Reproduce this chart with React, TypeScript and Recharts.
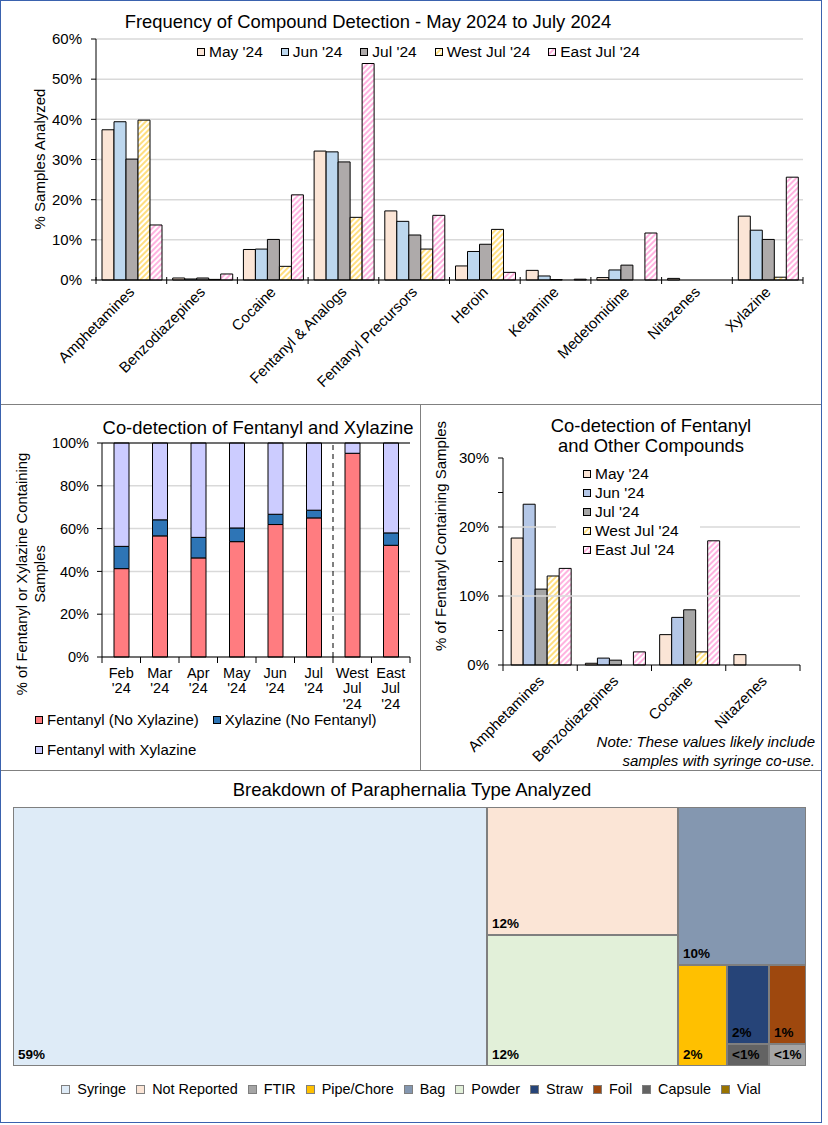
import { BarChart, Bar, XAxis, YAxis, CartesianGrid, ReferenceLine, ReferenceArea, Treemap } from "recharts"

const FONT = "Arial, 'Liberation Sans', Helvetica, sans-serif"

// Frequency of compound detection, % of samples analyzed
const compounds = [
  "Amphetamines",
  "Benzodiazepines",
  "Cocaine",
  "Fentanyl & Analogs",
  "Fentanyl Precursors",
  "Heroin",
  "Ketamine",
  "Medetomidine",
  "Nitazenes",
  "Xylazine",
]
const may24 = [37.4, 0.5, 7.6, 32.1, 17.2, 3.5, 2.4, 0.6, 0.4, 15.9]
const jun24 = [39.4, 0.25, 7.7, 31.9, 14.6, 7.1, 1.0, 2.5, 0, 12.4]
const jul24 = [30.1, 0.5, 10.1, 29.4, 11.2, 8.9, 0.1, 3.7, 0, 10.1]
const westJul24 = [39.8, 0.15, 3.4, 15.6, 7.7, 12.6, 0, 0, 0, 0.7]
const eastJul24 = [13.7, 1.5, 21.2, 53.9, 16.1, 1.9, 0.2, 11.7, 0, 25.6]
const frequencyTicks = [0, 10, 20, 30, 40, 50, 60]

// Co-detection of fentanyl and xylazine, % of fentanyl or xylazine containing samples
const codetectPeriods = ["Feb '24", "Mar '24", "Apr '24", "May '24", "Jun '24", "Jul '24", "West Jul '24", "East Jul '24"]
const fentanylNoXylazine = [41.3, 56.6, 46.3, 53.9, 61.9, 65.0, 95.2, 52.2]
const xylazineNoFentanyl = [10.4, 7.5, 9.6, 6.4, 4.8, 3.6, 0, 5.8]
const fentanylWithXylazine = [48.3, 35.9, 44.1, 39.7, 33.3, 31.4, 4.8, 42.0]
const codetectTicks = [0, 20, 40, 60, 80, 100]

// Co-detection of fentanyl and other compounds, % of fentanyl containing samples
const otherCompounds = ["Amphetamines", "Benzodiazepines", "Cocaine", "Nitazenes"]
const withFentanylMay = [18.4, 0.25, 4.4, 1.5]
const withFentanylJun = [23.3, 1.0, 6.9, 0]
const withFentanylJul = [11.0, 0.7, 8.0, 0]
const withFentanylWest = [12.9, 0, 1.9, 0]
const withFentanylEast = [14.0, 1.9, 18.0, 0]
const otherTicks = [0, 5, 10, 15, 20, 25, 30]

// Paraphernalia type share, %
const paraTypes = ["Syringe", "Not Reported", "FTIR", "Pipe/Chore", "Bag", "Powder", "Straw", "Foil", "Capsule", "Vial"]
const paraShares = [59.4, 11.9, 0.4, 2.4, 9.8, 12.1, 1.6, 1.4, 0.45, 0]

const periodKeys = ["may", "jun", "jul", "west", "east"]
const periodNames = ["May '24", "Jun '24", "Jul '24", "West Jul '24", "East Jul '24"]
const periodFills = ["#FBE5D6", "#BDD7EE", "#AEAAAA", "url(#hatchWest)", "url(#hatchEast)"]
const otherFills = ["#FBE5D6", "#B4C7E7", "#A6A6A6", "url(#hatchWest)", "url(#hatchEast)"]

const codetectKeys = ["fentOnly", "xylOnly", "both"]
const codetectNames = ["Fentanyl (No Xylazine)", "Xylazine (No Fentanyl)", "Fentanyl with Xylazine"]
const codetectFills = ["#FF7C80", "#2E75B6", "#CCCCFF"]

const paraColors: Record<string, string> = {
  Syringe: "#DEEBF7",
  "Not Reported": "#FBE5D6",
  FTIR: "#A5A5A5",
  "Pipe/Chore": "#FFC000",
  Bag: "#8497B0",
  Powder: "#E2F0D9",
  Straw: "#264478",
  Foil: "#9E480E",
  Capsule: "#636363",
  Vial: "#997300",
}

const frequencyRows = compounds.map((compound, i) => ({
  compound,
  may: may24[i],
  jun: jun24[i],
  jul: jul24[i],
  west: westJul24[i],
  east: eastJul24[i],
}))

const codetectRows = codetectPeriods.map((period, i) => ({
  period,
  fentOnly: fentanylNoXylazine[i],
  xylOnly: xylazineNoFentanyl[i],
  both: fentanylWithXylazine[i],
}))

const otherRows = otherCompounds.map((compound, i) => ({
  compound,
  may: withFentanylMay[i],
  jun: withFentanylJun[i],
  jul: withFentanylJul[i],
  west: withFentanylWest[i],
  east: withFentanylEast[i],
}))

// nesting only steers the squarify layout to the Excel arrangement
const share = (name: string) => ({ name, size: paraShares[paraTypes.indexOf(name)] })
const paraTree = [
  share("Syringe"),
  { name: "mid", children: [share("Not Reported"), share("Powder")] },
  {
    name: "right",
    children: [
      share("Bag"),
      {
        name: "small",
        children: [
          share("Pipe/Chore"),
          {
            name: "tiny",
            children: [share("Straw"), share("Foil"), { name: "tinyBottom", children: [share("Capsule"), share("FTIR")] }],
          },
        ],
      },
    ],
  },
]

const pct = (v: number) => `${v}%`
const shareLabel = (v: number) => (v < 1 ? "<1%" : `${Math.round(v)}%`)

function PatternDefs() {
  return (
    <svg width={0} height={0} style={{ position: "absolute" }}>
      <defs>
        <pattern id="hatchWest" width={4} height={4} patternUnits="userSpaceOnUse" patternTransform="rotate(45)">
          <rect width={4} height={4} fill="#fff" />
          <rect width={2} height={4} fill="#FFDF80" />
        </pattern>
        <pattern id="hatchEast" width={4} height={4} patternUnits="userSpaceOnUse" patternTransform="rotate(45)">
          <rect width={4} height={4} fill="#fff" />
          <rect width={2} height={4} fill="#FFB3E0" />
        </pattern>
      </defs>
    </svg>
  )
}

function LegendItem({
  fill,
  label,
  size = 8,
  border = "#000",
  space = 4,
}: {
  fill: string
  label: string
  size?: number
  border?: string
  space?: number
}) {
  return (
    <div style={{ display: "flex", alignItems: "center", whiteSpace: "nowrap" }}>
      <svg width={size} height={size} style={{ marginRight: space, flex: "none" }}>
        <rect x={0.5} y={0.5} width={size - 1} height={size - 1} fill={fill} stroke={border} strokeWidth={1} />
      </svg>
      <span>{label}</span>
    </div>
  )
}

function Caption({ cx, cy, lines, size = 18, lineHeight = 20, rotate = false }: any) {
  return (
    <div
      style={{
        position: "absolute",
        left: cx,
        top: cy,
        transform: `translate(-50%, -50%)${rotate ? " rotate(-90deg)" : ""}`,
        whiteSpace: "nowrap",
        textAlign: "center",
        fontSize: size,
        lineHeight: `${lineHeight}px`,
      }}
    >
      {lines.map((l: string) => (
        <div key={l}>{l}</div>
      ))}
    </div>
  )
}

// slanted category label plus Excel style tick marks on the category edges
function slantTick(half: number, size: number, tickTop: number, tickBottom: number, dx: number, dy: number) {
  return (props: any) => {
    const { x, y, payload, index, visibleTicksCount } = props
    const h = payload.offset || half
    return (
      <g>
        <line x1={x - h} x2={x - h} y1={y - tickTop} y2={y + tickBottom} stroke="#000" />
        {index === visibleTicksCount - 1 && <line x1={x + h} x2={x + h} y1={y - tickTop} y2={y + tickBottom} stroke="#000" />}
        <text
          x={x + dx}
          y={y + dy}
          transform={`rotate(-45 ${x + dx} ${y + dy})`}
          textAnchor="end"
          fontSize={size}
          fontFamily={FONT}
          fill="#000"
        >
          {payload.value}
        </text>
      </g>
    )
  }
}

function stackedTick(half: number) {
  return (props: any) => {
    const { x, y, payload, index, visibleTicksCount } = props
    const h = payload.offset || half
    const lines = String(payload.value).split(" ")
    return (
      <g>
        <line x1={x - h} x2={x - h} y1={y} y2={y + 6} stroke="#000" />
        {index === visibleTicksCount - 1 && <line x1={x + h} x2={x + h} y1={y} y2={y + 6} stroke="#000" />}
        <text textAnchor="middle" fontSize={14.5} fontFamily={FONT} fill="#000">
          {lines.map((l, i) => (
            <tspan key={i} x={x} y={y + 20.5 + i * 15.8}>
              {l}
            </tspan>
          ))}
        </text>
      </g>
    )
  }
}

function CompoundFrequencyChart() {
  return (
    <div style={{ position: "absolute", left: 0, top: 0 }}>
      <BarChart
        width={822}
        height={400}
        data={frequencyRows}
        margin={{ top: 39, right: 19, bottom: 0, left: 40 }}
        barCategoryGap="8.5%"
        barGap={0}
      >
        <CartesianGrid vertical={false} stroke="#D9D9D9" strokeWidth={1.5} />
        <XAxis
          dataKey="compound"
          interval={0}
          height={120}
          tickLine={false}
          tickSize={0}
          tickMargin={0}
          axisLine={{ stroke: "#000" }}
          tick={slantTick(35.35, 15, 3, 4, 4, 13)}
        />
        <YAxis
          width={56}
          domain={[0, 60]}
          ticks={frequencyTicks}
          tickFormatter={pct}
          tickSize={5}
          tickMargin={9}
          axisLine={{ stroke: "#000" }}
          tickLine={{ stroke: "#000" }}
          tick={{ fontSize: 15, fill: "#000", fontFamily: FONT }}
        />
        {periodKeys.map((k, i) => (
          <Bar key={k} dataKey={k} name={periodNames[i]} fill={periodFills[i]} stroke="#000" strokeWidth={1} isAnimationActive={false} />
        ))}
        <ReferenceArea fill="none" stroke="#000" strokeWidth={1} fillOpacity={0} />
      </BarChart>
      <Caption cx={368} cy={22} lines={["Frequency of Compound Detection - May 2024 to July 2024"]} size={18.4} />
      <Caption cx={40} cy={159} lines={["% Samples Analyzed"]} size={15} rotate />
      <div style={{ position: "absolute", left: 197, top: 43, display: "flex", gap: 18, fontSize: 15.5, lineHeight: "18px" }}>
        {periodKeys.map((k, i) => (
          <LegendItem key={k} fill={periodFills[i]} label={periodNames[i]} />
        ))}
      </div>
    </div>
  )
}

function FentanylXylazineChart() {
  return (
    <div style={{ position: "absolute", left: 0, top: 405 }}>
      <BarChart
        width={420}
        height={365}
        data={codetectRows}
        margin={{ top: 38, right: 10, bottom: 53, left: 48 }}
        barSize={15}
      >
        <CartesianGrid vertical={false} stroke="#D9D9D9" strokeWidth={1.5} />
        <XAxis
          dataKey="period"
          interval={0}
          height={60}
          tickLine={false}
          tickSize={0}
          tickMargin={0}
          axisLine={{ stroke: "#000" }}
          tick={stackedTick(19.25)}
        />
        <YAxis
          width={54}
          domain={[0, 100]}
          ticks={codetectTicks}
          tickFormatter={pct}
          tickSize={5}
          tickMargin={8}
          axisLine={{ stroke: "#000" }}
          tickLine={{ stroke: "#000" }}
          tick={{ fontSize: 14.5, fill: "#000", fontFamily: FONT }}
        />
        {codetectKeys.map((k, i) => (
          <Bar key={k} dataKey={k} name={codetectNames[i]} stackId="a" fill={codetectFills[i]} stroke="#000" strokeWidth={1} isAnimationActive={false} />
        ))}
        <ReferenceLine y={100} stroke="#000" strokeWidth={1} />
        <ReferenceLine x="West Jul '24" position="start" stroke="#000" strokeWidth={1} strokeDasharray="5 4" />
      </BarChart>
      <Caption cx={258} cy={23} lines={["Co-detection of Fentanyl and Xylazine"]} size={18.4} />
      <Caption cx={31} cy={169} lines={["% of Fentanyl or Xylazine Containing", "Samples"]} size={14.8} lineHeight={18} rotate />
      <div style={{ position: "absolute", left: 35, top: 308, fontSize: 15, lineHeight: "14px" }}>
        <div style={{ display: "flex", gap: 14 }}>
          <LegendItem fill={codetectFills[0]} label={codetectNames[0]} />
          <LegendItem fill={codetectFills[1]} label={codetectNames[1]} />
        </div>
        <div style={{ display: "flex", marginTop: 15.5 }}>
          <LegendItem fill={codetectFills[2]} label={codetectNames[2]} />
        </div>
      </div>
    </div>
  )
}

function FentanylOtherChart() {
  return (
    <div style={{ position: "absolute", left: 421, top: 405 }}>
      <BarChart
        width={401}
        height={365}
        data={otherRows}
        margin={{ top: 53, right: 22, bottom: 0, left: 36 }}
        barCategoryGap="11%"
        barGap={0}
      >
        <ReferenceLine y={10} stroke="#D9D9D9" strokeWidth={1.5} />
        <ReferenceLine y={20} stroke="#D9D9D9" strokeWidth={1.5} />
        <XAxis
          dataKey="compound"
          interval={0}
          height={105}
          tickLine={false}
          tickSize={0}
          tickMargin={0}
          axisLine={{ stroke: "#000" }}
          tick={slantTick(37.1, 15, 0, 6, 5, 17)}
        />
        <YAxis
          width={46}
          domain={[0, 30]}
          ticks={otherTicks}
          tickFormatter={(v: number) => (v % 10 === 0 ? pct(v) : "")}
          tickSize={5}
          tickMargin={9}
          axisLine={{ stroke: "#000" }}
          tickLine={{ stroke: "#000" }}
          tick={{ fontSize: 15, fill: "#000", fontFamily: FONT }}
        />
        {periodKeys.map((k, i) => (
          <Bar key={k} dataKey={k} name={periodNames[i]} fill={otherFills[i]} stroke="#000" strokeWidth={1} isAnimationActive={false} />
        ))}
        <ReferenceArea fill="none" stroke="#000" strokeWidth={1} fillOpacity={0} />
      </BarChart>
      <Caption cx={230} cy={31} lines={["Co-detection of Fentanyl", "and Other Compounds"]} size={18.4} lineHeight={20} />
      <Caption cx={20} cy={131} lines={["% of Fentanyl Containing Samples"]} size={15} rotate />
      <div
        style={{
          position: "absolute",
          left: 135,
          top: 57,
          width: 144,
          padding: "2px 0 2px 27px",
          boxSizing: "border-box",
          background: "#fff",
          fontSize: 15.5,
          lineHeight: "19px",
        }}
      >
        {periodKeys.map((k, i) => (
          <LegendItem key={k} fill={otherFills[i]} label={periodNames[i]} />
        ))}
      </div>
      <div
        style={{
          position: "absolute",
          right: 401 - 394,
          top: 327,
          textAlign: "right",
          fontStyle: "italic",
          fontSize: 15,
          lineHeight: "19px",
          whiteSpace: "nowrap",
        }}
      >
        <div>Note: These values likely include</div>
        <div>samples with syringe co-use.</div>
      </div>
    </div>
  )
}

function renderParaCell(props: any) {
  const { x, y, width, height, name, value } = props
  const color = paraColors[name]
  if (!color || !width || !height) return <g />
  return (
    <g>
      <rect x={x + 0.5} y={y + 0.5} width={width - 1} height={height - 1} fill={color} stroke="#7F7F7F" strokeWidth={1} />
      <text x={x + 5} y={y + height - 7} fontSize={13.5} fontWeight="bold" fontFamily={FONT} fill="#000">
        {shareLabel(value)}
      </text>
    </g>
  )
}

function ParaphernaliaTreemap() {
  return (
    <>
      <Caption cx={412} cy={790} lines={["Breakdown of Paraphernalia Type Analyzed"]} size={18.5} />
      <div style={{ position: "absolute", left: 13, top: 807 }}>
        <Treemap
          width={793}
          height={259}
          data={paraTree}
          dataKey="size"
          nameKey="name"
          aspectRatio={1.2}
          isAnimationActive={false}
          content={renderParaCell}
        />
      </div>
      <div
        style={{
          position: "absolute",
          left: 0,
          width: 822,
          top: 1080,
          display: "flex",
          justifyContent: "center",
          gap: 10,
          fontSize: 14.4,
          lineHeight: "18px",
        }}
      >
        {paraTypes.map((t) => (
          <LegendItem key={t} fill={paraColors[t]} label={t} size={9} border="#7F7F7F" space={7} />
        ))}
      </div>
    </>
  )
}

export default function App() {
  return (
    <div
      style={{
        position: "absolute",
        left: 0,
        top: 0,
        width: 828,
        height: 1125,
        background: "#fff",
        fontFamily: FONT,
        color: "#000",
        overflow: "hidden",
      }}
    >
      <PatternDefs />
      <div style={{ position: "absolute", left: 0, top: 404, width: 822, height: 1, background: "#808080" }} />
      <div style={{ position: "absolute", left: 0, top: 770, width: 822, height: 1, background: "#808080" }} />
      <div style={{ position: "absolute", left: 420, top: 404, width: 1, height: 367, background: "#808080" }} />
      <CompoundFrequencyChart />
      <FentanylXylazineChart />
      <FentanylOtherChart />
      <ParaphernaliaTreemap />
      <div
        style={{
          position: "absolute",
          left: 0,
          top: 0,
          width: 822,
          height: 1123,
          border: "1.5px solid #3A62AE",
          boxSizing: "border-box",
          pointerEvents: "none",
        }}
      />
    </div>
  )
}
